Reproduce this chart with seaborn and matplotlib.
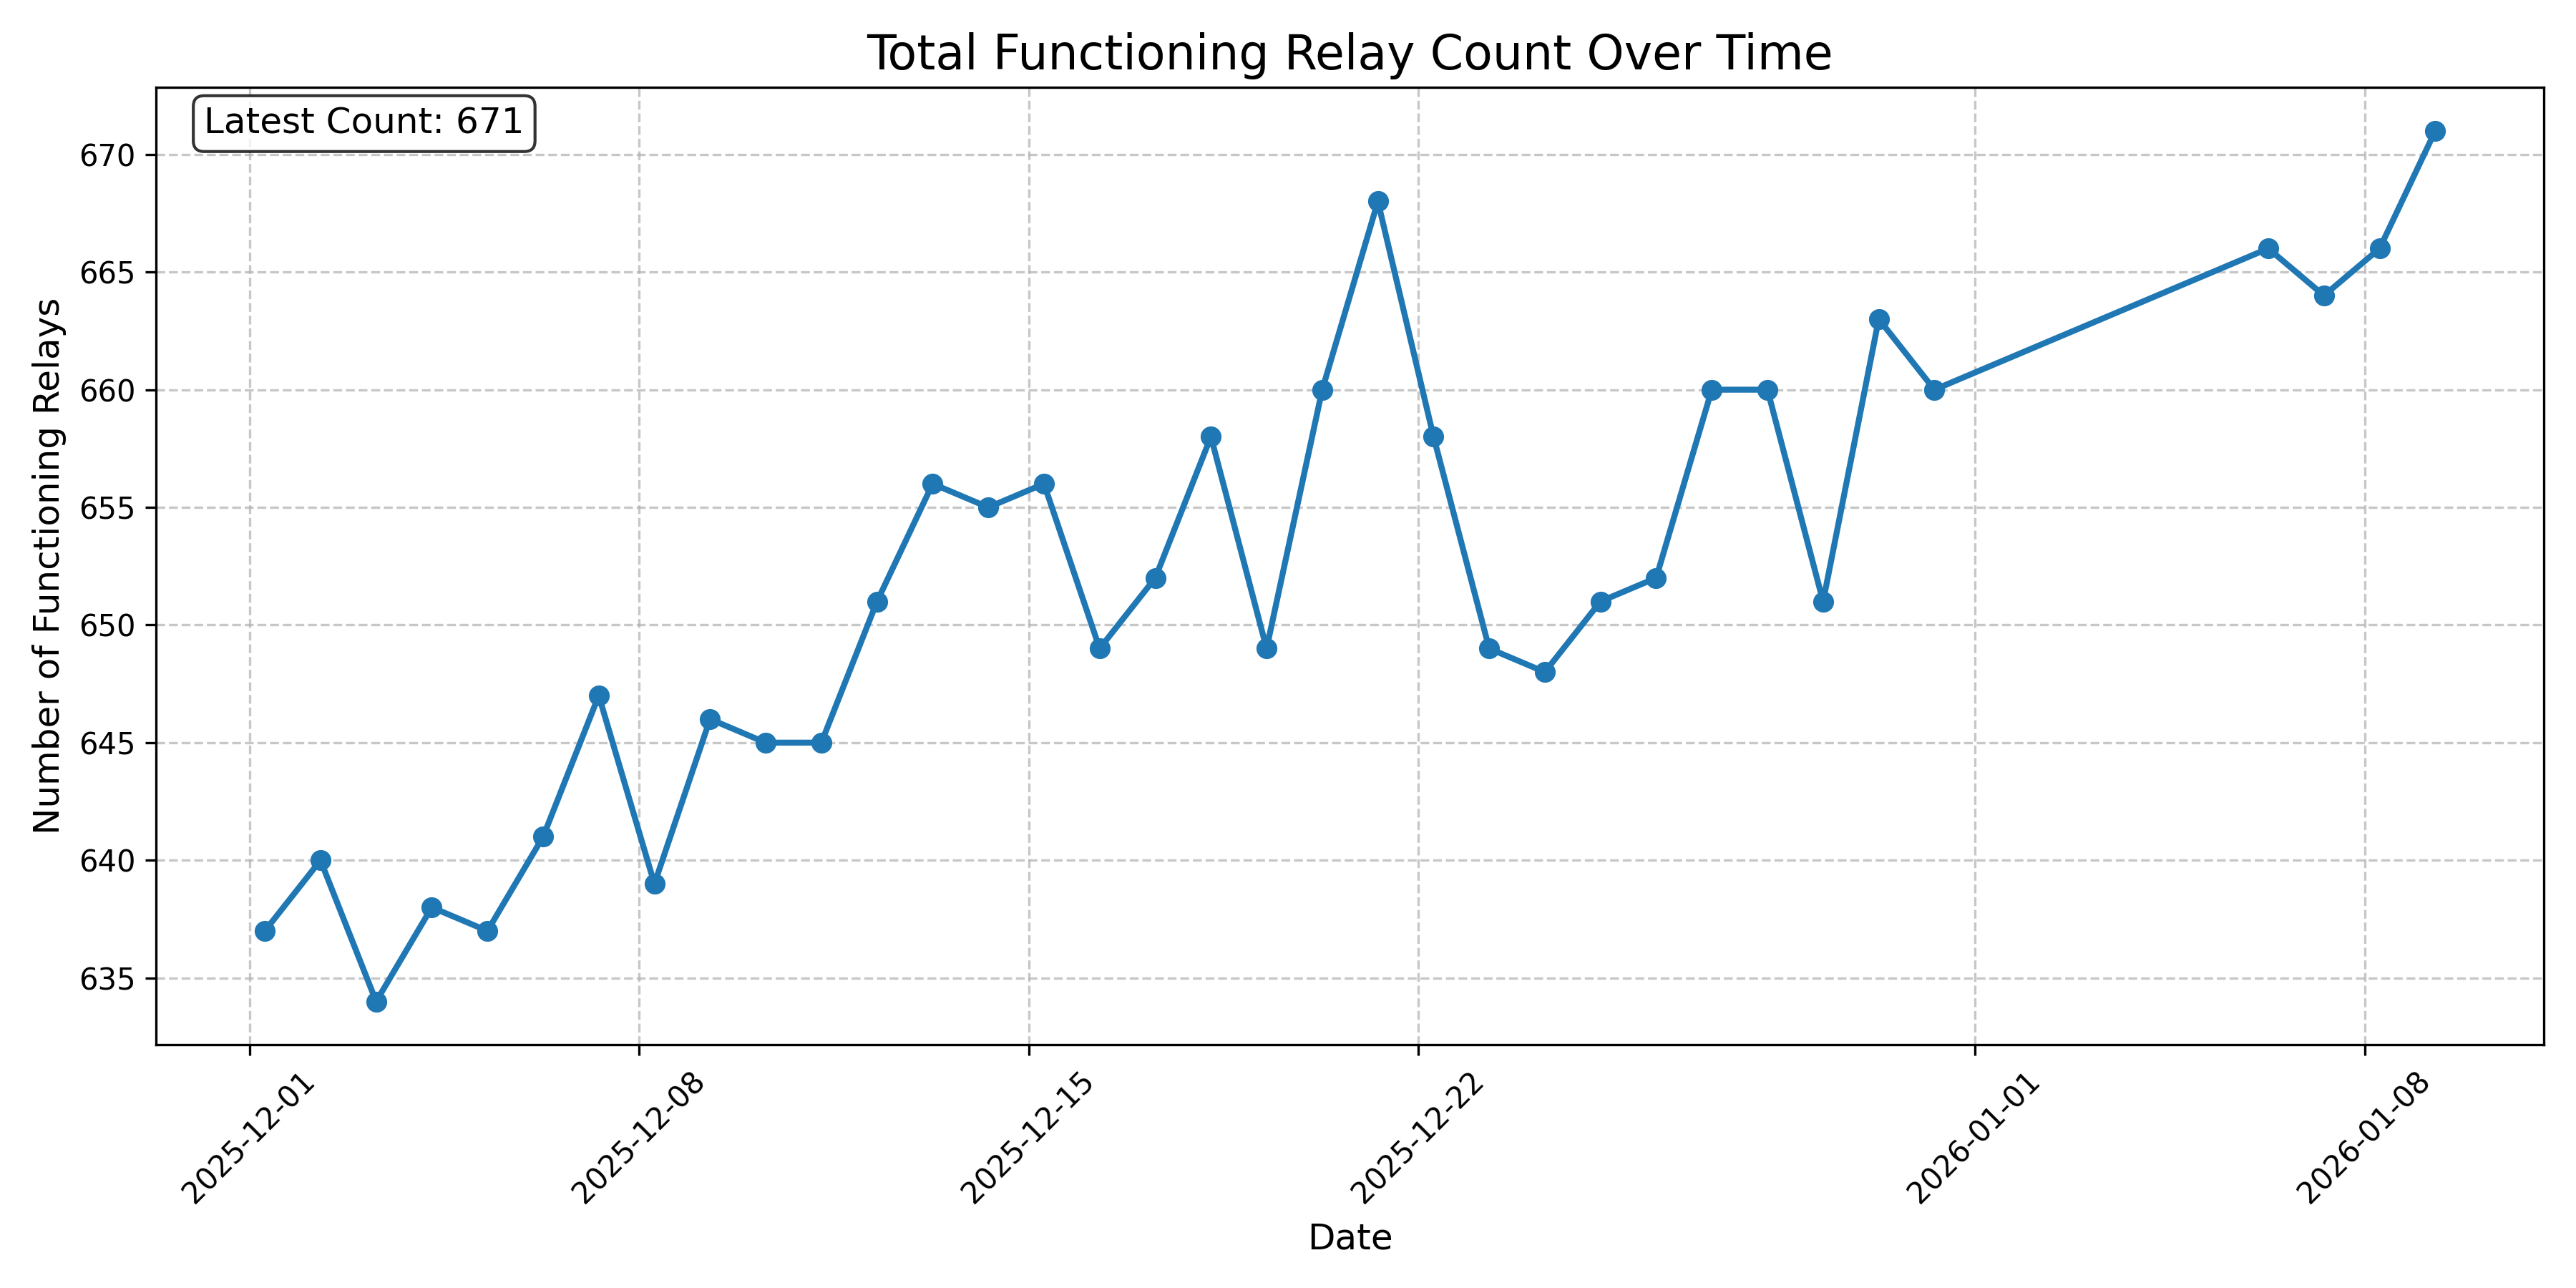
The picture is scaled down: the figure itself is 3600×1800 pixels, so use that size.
import matplotlib
matplotlib.use("Agg")
import matplotlib.pyplot as plt
import matplotlib.dates as mdates
import seaborn as sns
import pandas as pd

dates = [
    "2025-12-01", "2025-12-02", "2025-12-03", "2025-12-04", "2025-12-05",
    "2025-12-06", "2025-12-07", "2025-12-08", "2025-12-09", "2025-12-10",
    "2025-12-11", "2025-12-12", "2025-12-13", "2025-12-14", "2025-12-15",
    "2025-12-16", "2025-12-17", "2025-12-18", "2025-12-19", "2025-12-20",
    "2025-12-21", "2025-12-22", "2025-12-23", "2025-12-24", "2025-12-25",
    "2025-12-26", "2025-12-27", "2025-12-28", "2025-12-29", "2025-12-30",
    "2025-12-31", "2026-01-06", "2026-01-07", "2026-01-08", "2026-01-09",
]
counts = [
    637, 640, 634, 638, 637, 641, 647, 639, 646, 645,
    645, 651, 656, 655, 656, 649, 652, 658, 649, 660,
    668, 658, 649, 648, 651, 652, 660, 660, 651, 663,
    660, 666, 664, 666, 671,
]
sample_time = "06:30"

df = pd.DataFrame({
    "Date": pd.to_datetime([d + " " + sample_time for d in dates]),
    "Count": counts,
})

line_color = "#1f77b4"
fig, ax = plt.subplots(figsize=(12, 6), dpi=300)
sns.lineplot(data=df, x="Date", y="Count", marker="o", linewidth=2,
             markersize=6, markeredgewidth=1, markeredgecolor=line_color,
             color=line_color, ax=ax)

ax.set_title("Total Functioning Relay Count Over Time", fontsize=16)
ax.set_xlabel("Date", fontsize=12)
ax.set_ylabel("Number of Functioning Relays", fontsize=12)
ax.grid(True, linestyle="--", alpha=0.7)
ax.xaxis.set_major_formatter(mdates.DateFormatter("%Y-%m-%d"))
plt.setp(ax.get_xticklabels(), rotation=45)

ax.text(0.02, 0.98, f"Latest Count: {counts[-1]}", transform=ax.transAxes,
        fontsize=12, va="top",
        bbox=dict(boxstyle="round", facecolor="white", alpha=0.8))

plt.tight_layout()
fig.savefig("out.png", dpi=300)
